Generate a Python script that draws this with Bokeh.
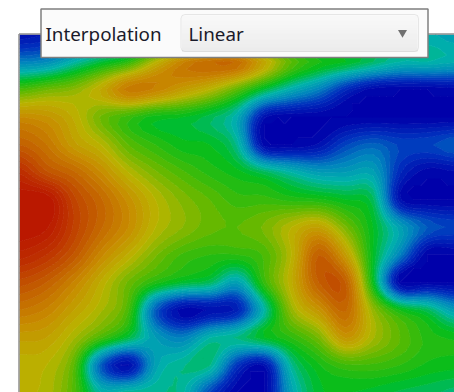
from bokeh.plotting import figure
from bokeh.embed import file_html
from bokeh.resources import INLINE
from bokeh.models import BoxAnnotation, Range1d
from bokeh.core.properties import value
import numpy as np

# Field values, scale 0 (deep blue) .. 10 (red); one list per row, top to bottom
row_00 = [0.3,0.5,0.8,1.2,1.5,2.0,3.0,3.5,3.5,3.2,3.0,2.8,2.8,2.8,2.8,2.8,2.6]
row_01 = [2.0,2.2,3.0,3.8,4.5,6.0,7.2,7.7,7.7,6.4,5.0,4.3,4.0,3.5,3.0,3.0,2.8]
row_02 = [4.8,5.2,5.5,6.3,7.4,7.2,6.6,6.0,5.0,3.8,2.8,2.0,0.8,0.1,0.0,0.0,0.1]
row_03 = [7.0,6.8,6.2,5.2,4.6,4.1,4.0,3.6,2.8,0.3,0.0,0.0,0.0,0.0,0.0,0.0,0.0]
row_04 = [8.0,7.5,6.6,6.0,5.0,4.5,4.1,4.0,3.2,0.1,0.0,0.3,1.2,1.6,1.2,1.2,1.5]
row_05 = [9.2,8.3,7.8,7.0,6.0,5.3,4.8,4.4,4.1,3.6,3.0,2.5,2.5,2.6,0.8,0.1,0.2]
row_06 = [10.0,10.0,8.6,7.8,6.9,6.0,5.4,5.0,4.6,4.6,4.4,4.3,4.0,3.6,0.3,0.0,0.0]
row_07 = [10.0,9.8,8.7,7.8,7.0,6.0,5.5,5.1,5.0,5.3,6.0,6.5,5.3,4.0,2.6,1.5,1.2]
row_08 = [9.4,9.0,8.2,7.1,6.2,5.3,4.7,4.5,4.5,4.8,6.0,8.0,6.6,4.0,2.0,0.0,0.0]
row_09 = [8.4,8.0,7.2,6.2,5.2,4.4,3.9,3.6,2.6,4.6,6.2,8.0,8.0,4.1,0.0,0.0,0.0]
row_10 = [7.5,7.2,6.5,5.8,4.8,1.5,0.1,0.3,0.6,3.0,5.6,6.8,7.8,5.6,4.2,3.6,2.5]
row_11 = [6.6,6.5,5.8,4.8,3.8,2.5,2.0,3.0,3.3,4.0,4.5,5.3,6.8,5.8,5.0,4.4,4.2]
row_12 = [6.1,6.0,5.0,1.5,0.2,2.6,3.2,3.3,1.0,0.3,3.2,4.2,4.7,4.7,4.5,4.2,4.1]
row_13 = [6.0,5.9,4.9,3.0,3.2,3.2,3.1,1.2,0.0,0.0,2.6,3.9,4.0,3.9,3.7,3.6,3.4]
rows = [row_00,row_01,row_02,row_03,row_04,row_05,row_06,row_07,row_08,row_09,row_10,row_11,row_12,row_13]

label_text = "Interpolation"
combo_text = "Linear"

stops = [(0,(0,0,170)),(1,(0,50,190)),(2,(0,130,190)),(3,(0,180,170)),(4,(0,190,30)),(5,(90,185,0)),
         (6,(185,180,0)),(7,(200,140,0)),(8,(195,95,0)),(9,(190,50,0)),(10,(185,20,0))]
sv = [s[0] for s in stops]
def col(v):
    return "#%02x%02x%02x" % tuple(int(round(np.interp(v, sv, [s[1][k] for s in stops]))) for k in range(3))

levels = list(np.arange(-0.25, 10.5, 0.25))
palette = [col((a+b)/2) for a,b in zip(levels[:-1], levels[1:])]
line_palette = [col(l) for l in levels]

def catmull(a, factor):
    # rendering refinement along axis 0 so that bands are drawn as curves, not facets
    n = a.shape[0]
    t = np.linspace(0, n-1, (n-1)*factor+1)
    i = np.clip(np.floor(t).astype(int), 0, n-2)
    f = (t-i)[(...,)+(None,)*(a.ndim-1)]
    p0, p1, p2, p3 = a[np.clip(i-1,0,n-1)], a[i], a[i+1], a[np.clip(i+2,0,n-1)]
    return 0.5*(2*p1+(p2-p0)*f+(2*p0-5*p1+4*p2-p3)*f**2+(3*p1-p0-3*p2+p3)*f**3)

z = np.array(rows, dtype=float)
zf = catmull(catmull(z, 4).T, 4).T
zf = np.clip(zf, 0, 10)
xs = np.linspace(19, 454, zf.shape[1])
ys = np.linspace(34, 392, zf.shape[0])

p = figure(width=454, height=392, output_backend="svg", toolbar_location=None,
           x_range=Range1d(0,454), y_range=Range1d(392,0), min_border=0,
           x_axis_type=None, y_axis_type=None, outline_line_color=None)
p.grid.visible = False
p.background_fill_color = "white"
p.border_fill_color = "white"

cr = p.contour(xs, ys, zf, levels=levels, fill_color=palette, line_color=line_palette, line_width=1)

# plot frame
p.segment(x0=[18.5,18.5], y0=[33.5,33.5], x1=[454,18.5], y1=[33.5,392], line_color="#8f8f8f", line_width=1.5)

# combo panel
p.quad(left=[40.5], right=[427.5], top=[8.5], bottom=[57], fill_color="#fbfbfb", line_color="#7f7f7f", line_width=1.5)
edges = np.arange(15, 51)
grad = ["#%02x%02x%02x" % ((int(249-15*(e-15)/35),)*3) for e in edges]
p.quad(left=[181.5]*len(edges), right=[417]*len(edges), top=list(edges), bottom=list(edges+1.2), fill_color=grad, line_color=None)
box = BoxAnnotation(left=180.5, right=418, top=14, bottom=51, fill_alpha=0, line_color="#b5b5b5",
                    line_width=1, border_radius=4)
p.add_layout(box)
p.text(x=[45], y=[33], text=[label_text], text_font=value("Noto Sans"), text_font_size="18.8px",
       text_color="#1a1a2a", text_baseline="middle")
p.text(x=[188], y=[33], text=[combo_text], text_font=value("Noto Sans"), text_font_size="18.8px",
       text_color="#1a1a2a", text_baseline="middle")
p.scatter(x=[402], y=[32], marker="inverted_triangle", size=9, fill_color="#707070", line_color=None)

open("out.html", "w").write(file_html(p, INLINE))
